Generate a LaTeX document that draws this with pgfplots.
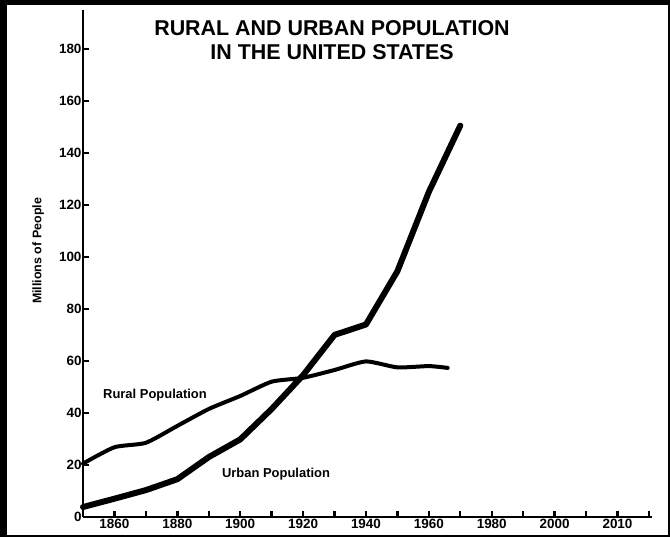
\documentclass[border=0pt]{standalone}
\usepackage{fontspec}
\setmainfont{Liberation Sans}
\usepackage{pgfplots}
\pgfplotsset{compat=1.18}
\begin{document}
\begin{tikzpicture}
\begin{axis}[
  x=3.144bp, y=2.6bp,
  xmin=1850, xmax=2031, ymin=0, ymax=195,
  axis lines*=left,
  axis line style={line width=2.6bp},
  clip=false,
  xtick={1860,1880,1900,1920,1940,1960,1980,2000,2020},
  xticklabels={1860,1880,1900,1920,1940,1960,1980,2000,2010},
  minor xtick={1870,1890,1910,1930,1950,1970,1990,2010,2030},
  ytick={0,20,40,60,80,100,120,140,160,180},
  tick align=inside,
  major tick length=6bp, minor tick length=6bp,
  tick style={line width=2.4bp, black},
  every tick label/.append style={font=\fontsize{13.5}{15}\selectfont\bfseries},
  /pgf/number format/assume math mode=true,
  /pgf/number format/1000 sep={},
  xticklabel style={yshift=1.5bp},
  yticklabel style={xshift=2bp},
]
\addplot[line width=6bp, black, line join=round, line cap=round] coordinates {
 (1850,3.8) (1860,7) (1870,10.3) (1880,14.5) (1890,23) (1900,29.8) (1910,41.5)
 (1920,54.5) (1930,70) (1940,74) (1950,94.5) (1960,125) (1970,150.5)};
\addplot[line width=4bp, black, line join=round, line cap=round, smooth, tension=0.35] coordinates {
 (1850,20.5) (1860,26.8) (1870,28.5) (1880,35) (1890,41.5) (1900,46.5) (1910,52)
 (1920,53.5) (1930,56.5) (1940,59.8) (1950,57.5) (1960,58) (1966,57.3)};
\node[font=\fontsize{21.5}{24}\selectfont\bfseries, align=center] at (axis cs:1929.2,183.5)
  {RURAL AND URBAN POPULATION\\IN THE UNITED STATES};
\node[font=\fontsize{13}{15}\selectfont\bfseries] at (axis cs:1872.9,46.9) {Rural Population};
\node[font=\fontsize{13}{15}\selectfont\bfseries] at (axis cs:1911.4,16.5) {Urban Population};
\node[font=\fontsize{12.5}{14}\selectfont\bfseries, rotate=90] at (axis cs:1835.7,102.3) {Millions of People};
\coordinate (BL) at (axis cs:1823.6,-7.7);
\coordinate (TR) at (axis cs:2036.7,198.8);
\end{axis}
\pgfresetboundingbox
\path[use as bounding box] (BL) rectangle (TR);
\fill[black] (BL) rectangle ([xshift=7bp]BL |- TR);
\fill[black] (BL |- TR) rectangle ([yshift=-5bp]TR);
\fill[black] (TR) rectangle ([xshift=-2bp]TR |- BL);
\fill[black] (BL) rectangle ([yshift=1.5bp]TR |- BL);
\end{tikzpicture}
\end{document}
